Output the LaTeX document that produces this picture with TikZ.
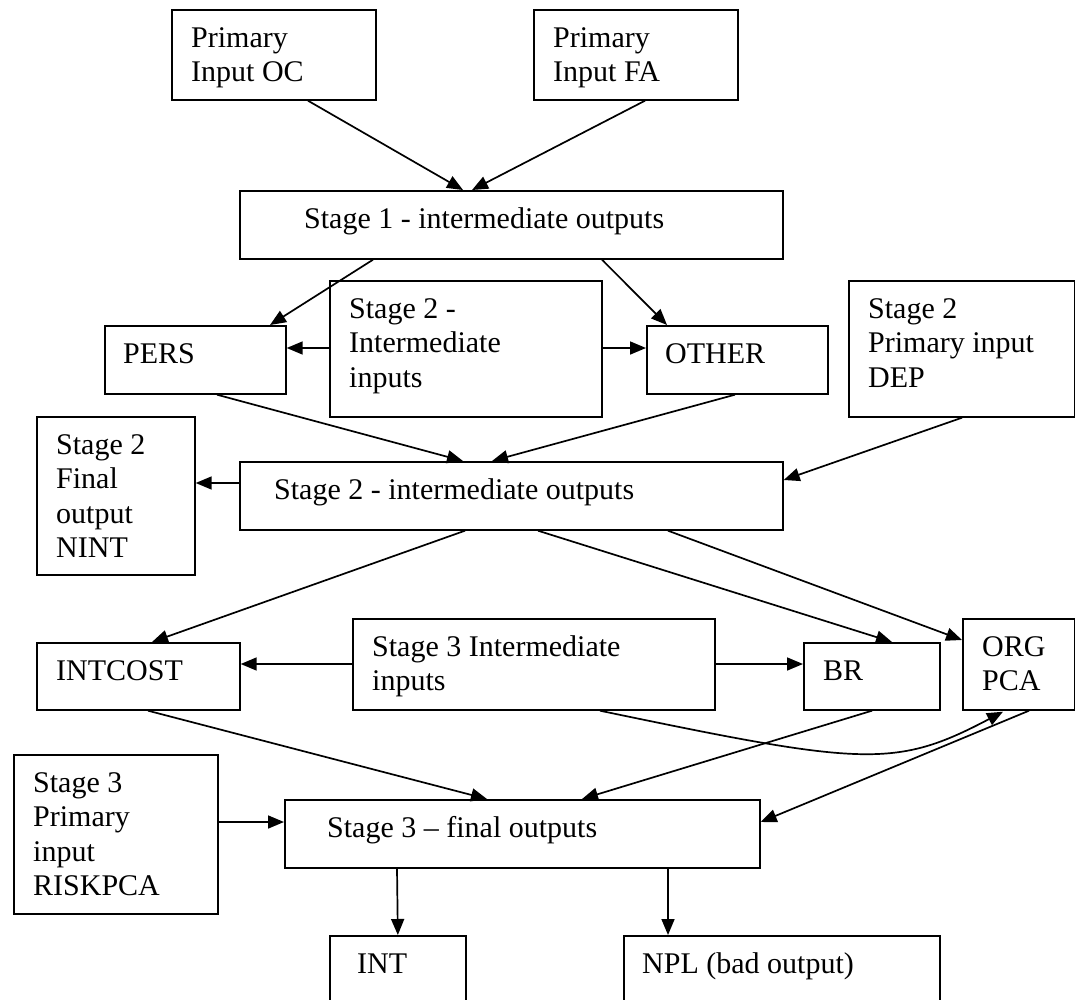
\documentclass[tikz,border=0pt]{standalone}
\usepackage{fontspec}
\setmainfont{Liberation Serif}
\usetikzlibrary{arrows.meta,calc}
\begin{document}
\begin{tikzpicture}[x=1pt,y=-1pt,
  box/.style={draw, line width=1.7pt, rectangle, anchor=north west, inner sep=0pt},
  lbl/.style={anchor=north west, inner sep=0pt, align=left, font=\fontsize{30}{34.5}\selectfont},
  conn/.style={line width=1.7pt, -{Triangle[length=16pt,width=13pt]}}
]
\useasboundingbox (0,0) rectangle (1075,1000);
\clip (0,0) rectangle (1075,1000);

% boxes
\node[box, minimum width=204pt, minimum height=90pt]  (oc)      at (171,9)   {};
\node[box, minimum width=204pt, minimum height=90pt]  (fa)      at (533,9)   {};
\node[box, minimum width=543pt, minimum height=68pt]  (s1)      at (239,190) {};
\node[box, minimum width=272pt, minimum height=136pt] (s2in)    at (329,280) {};
\node[box, minimum width=181pt, minimum height=68pt]  (pers)    at (104,325) {};
\node[box, minimum width=181pt, minimum height=68pt]  (other)   at (646,325) {};
\node[box, minimum width=226pt, minimum height=136pt] (dep)     at (848,280) {};
\node[box, minimum width=158pt, minimum height=158pt] (nint)    at (36,416)  {};
\node[box, minimum width=543pt, minimum height=68pt]  (s2out)   at (239,461) {};
\node[box, minimum width=203pt, minimum height=67pt]  (intcost) at (36,642)  {};
\node[box, minimum width=362pt, minimum height=91pt]  (s3in)    at (352,618) {};
\node[box, minimum width=136pt, minimum height=67pt]  (br)      at (803,642) {};
\node[box, minimum width=112pt, minimum height=91pt]  (org)     at (962,618) {};
\node[box, minimum width=204pt, minimum height=159pt] (risk)    at (13,754)  {};
\node[box, minimum width=475pt, minimum height=68pt]  (s3)      at (284,799) {};
\node[box, minimum width=136pt, minimum height=80pt]  (int)     at (329,935) {};
\node[box, minimum width=316pt, minimum height=80pt]  (npl)     at (623,935) {};

% texts
\node[lbl] (toc)      at ($(oc.north west)+(20,0)$)      {\rule{0pt}{38pt}Primary\\Input OC};
\node[lbl] (tfa)      at ($(fa.north west)+(20,0)$)      {\rule{0pt}{38pt}Primary\\Input FA};
\node[lbl] (ts1)      at ($(s1.north west)+(65,0)$)      {\rule{0pt}{38pt}Stage 1 - intermediate outputs};
\node[lbl] (ts2in)    at ($(s2in.north west)+(20,0)$)    {\rule{0pt}{38pt}Stage 2 -\\Intermediate\\inputs};
\node[lbl] (tpers)    at ($(pers.north west)+(19,0)$)    {\rule{0pt}{38pt}PERS};
\node[lbl] (tother)   at ($(other.north west)+(19,0)$)   {\rule{0pt}{38pt}OTHER};
\node[lbl] (tdep)     at ($(dep.north west)+(20,0)$)     {\rule{0pt}{38pt}Stage 2\\Primary input\\DEP};
\node[lbl] (tnint)    at ($(nint.north west)+(20,0)$)    {\rule{0pt}{38pt}Stage 2\\Final\\output\\NINT};
\node[lbl] (ts2out)   at ($(s2out.north west)+(35,0)$)   {\rule{0pt}{38pt}Stage 2 - intermediate outputs};
\node[lbl] (tintcost) at ($(intcost.north west)+(20,0)$) {\rule{0pt}{38pt}INTCOST};
\node[lbl] (ts3in)    at ($(s3in.north west)+(20,0)$)    {\rule{0pt}{38pt}Stage 3 Intermediate\\inputs};
\node[lbl] (tbr)      at ($(br.north west)+(20,0)$)      {\rule{0pt}{38pt}BR};
\node[lbl] (torg)     at ($(org.north west)+(20,0)$)     {\rule{0pt}{38pt}ORG\\PCA};
\node[lbl] (trisk)    at ($(risk.north west)+(20,0)$)    {\rule{0pt}{38pt}Stage 3\\Primary\\input\\RISKPCA};
\node[lbl] (ts3)      at ($(s3.north west)+(43,0)$)      {\rule{0pt}{38pt}Stage 3 -- final outputs};
\node[lbl] (tint)     at ($(int.north west)+(28,0)$)     {\rule{0pt}{38pt}INT};
\node[lbl] (tnpl)     at ($(npl.north west)+(19,0)$)     {\rule{0pt}{38pt}NPL (bad output)};

% connectors
\draw[conn] ($(oc.south west)+(137,0)$) -- ($(s1.north west)+(224,0)$);
\draw[conn] ($(fa.south west)+(112,0)$) -- ($(s1.north west)+(233,0)$);
\draw[conn] ($(s1.south west)+(134,0)$) -- ($(pers.north west)+(166,0)$);
\draw[conn] ($(s1.south west)+(363,0)$) -- ($(other.north west)+(21,0)$);
\draw[conn] ($(s2in.north west)+(0,68)$) -- ($(pers.north east)+(0,23)$);
\draw[conn] ($(s2in.north east)+(0,68)$) -- ($(other.north west)+(0,23)$);
\draw[conn] ($(pers.south west)+(113,0)$) -- ($(s2out.north west)+(224,0)$);
\draw[conn] ($(other.south west)+(89,0)$) -- ($(s2out.north west)+(253,0)$);
\draw[conn] ($(dep.south west)+(114,0)$) -- ($(s2out.north east)+(0,19)$);
\draw[conn] ($(s2out.north west)+(0,22)$) -- ($(nint.north east)+(0,67)$);
\draw[conn] ($(s2out.south west)+(226,0)$) -- ($(intcost.north west)+(116,0)$);
\draw[conn] ($(s2out.south west)+(299,0)$) -- ($(br.north west)+(89,0)$);
\draw[conn] ($(s2out.south west)+(429,0)$) -- ($(org.north west)+(0,22)$);
\draw[conn] ($(s3in.north west)+(0,46)$) -- ($(intcost.north east)+(0,22)$);
\draw[conn] ($(s3in.north east)+(0,46)$) -- ($(br.north west)+(0,22)$);
\draw[conn] ($(s3in.south west)+(248,0)$) .. controls ($(s3in.south west)+(512,55)$) and ($(org.south west)+(-67,58)$) .. ($(org.south west)+(41,1)$);
\draw[conn] ($(intcost.south west)+(112,0)$) -- ($(s3.north west)+(203,0)$);
\draw[conn] ($(br.south west)+(69,0)$) -- ($(s3.north west)+(298,0)$);
\draw[conn] ($(org.south west)+(67,0)$) -- ($(s3.north east)+(0,23)$);
\draw[conn] ($(risk.north east)+(0,68)$) -- ($(s3.north west)+(0,23)$);
\draw[conn] ($(s3.south west)+(113,0)$) -- (int.north);
\draw[conn] ($(s3.south west)+(384,0)$) -- ($(npl.north west)+(45,0)$);
\end{tikzpicture}
\end{document}
